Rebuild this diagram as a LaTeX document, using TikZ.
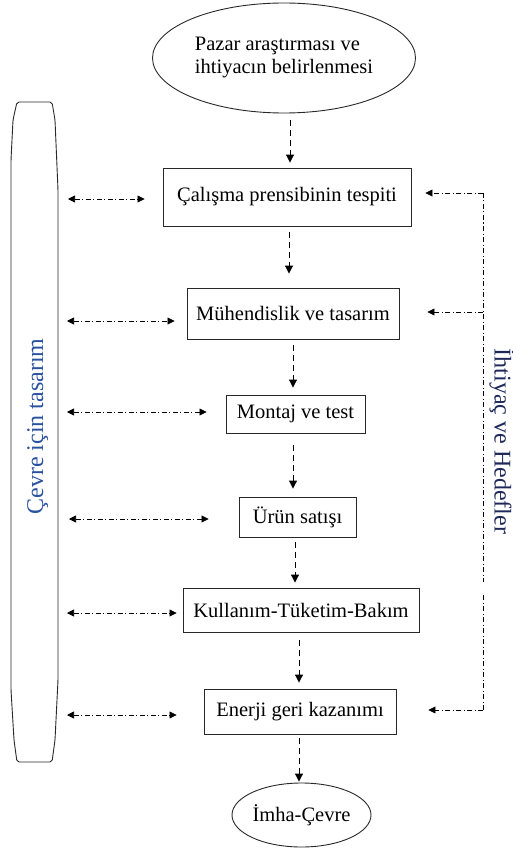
\documentclass[tikz,border=0pt]{standalone}
\usepackage{fontspec}
\setmainfont{Liberation Serif}
\usetikzlibrary{arrows.meta,shapes.geometric}
\definecolor{sideblue}{RGB}{40,82,160}
\definecolor{sidenavy}{RGB}{30,40,90}
\definecolor{edge}{RGB}{40,40,40}
\tikzset{
  boxnode/.style={draw=edge, line width=0.9pt, rectangle, inner sep=0pt, font=\fontsize{20.5}{23}\selectfont},
  ovalnode/.style={draw=edge, line width=0.9pt, ellipse, inner sep=0pt, font=\fontsize{20.5}{23}\selectfont},
  varrow/.style={line width=1pt, dash pattern=on 6pt off 4pt, -{Triangle[length=8pt,width=8pt]}},
  larrow/.style={line width=0.7pt, dash pattern=on 5pt off 2.5pt on 1pt off 2.5pt,
     {Triangle[length=7pt,width=7pt]}-{Triangle[length=7pt,width=7pt]}},
  rarrow/.style={line width=0.7pt, dash pattern=on 5pt off 2.5pt on 1pt off 2.5pt,
     -{Triangle[length=7pt,width=7pt]}},
  rline/.style={line width=0.7pt, dash pattern=on 5pt off 2.5pt on 1pt off 2.5pt},
  sidelabel/.style={font=\fontsize{24}{28}\selectfont, inner sep=0pt, anchor=base}
}
\begin{document}
\begin{tikzpicture}[x=1pt,y=-1pt]
\useasboundingbox (0,0) rectangle (512,850);
% nodes
\node[ovalnode, minimum width=263pt, minimum height=110pt, align=left] (pazar) at (284,58)
  {Pazar araştırması ve\\ihtiyacın belirlenmesi};
\node[boxnode, minimum width=248pt, minimum height=58pt] (b1) at (287,197) {Çalışma prensibinin tespiti};
\node[boxnode, minimum width=212pt, minimum height=51pt] (b2) at (293,313.5) {Mühendislik ve tasarım};
\node[boxnode, minimum width=139pt, minimum height=38pt] (b3) at (295.5,414) {Montaj ve test};
\node[boxnode, minimum width=117pt, minimum height=40pt] (b4) at (297.5,517) {Ürün satışı};
\node[boxnode, minimum width=236pt, minimum height=44pt] (b5) at (301,610) {Kullanım-Tüketim-Bakım};
\node[boxnode, minimum width=192pt, minimum height=45pt] (b6) at (300,711.5) {Enerji geri kazanımı};
\node[ovalnode, minimum width=139pt, minimum height=64pt] (imha) at (301.5,815) {İmha-Çevre};
% vertical flow arrows
\draw[varrow, shorten <=7pt, shorten >=5pt] ([xshift=6pt]pazar.south) -- ([xshift=6pt]pazar.south |- b1.north);
\draw[varrow, shorten <=6pt, shorten >=14pt] ([xshift=2pt]b1.south) -- ([xshift=2pt]b1.south |- b2.north);
\draw[varrow, shorten <=6pt, shorten >=7pt] (b2.south) -- (b2.south |- b3.north);
\draw[varrow, shorten <=12pt, shorten >=8pt] ([xshift=-2.5pt]b3.south) -- ([xshift=-2.5pt]b3.south |- b4.north);
\draw[varrow, shorten <=5pt, shorten >=5pt] ([xshift=-2.5pt]b4.south) -- ([xshift=-2.5pt]b4.south |- b5.north);
\draw[varrow, shorten <=8pt, shorten >=6pt] ([xshift=-2pt]b5.south) -- ([xshift=-2pt]b5.south |- b6.north);
\draw[varrow, shorten <=4pt, shorten >=1pt] ([xshift=-1pt]b6.south) -- ([xshift=-1pt]b6.south |- imha.north);
% left column
\draw[edge, line width=0.9pt, rounded corners=2pt]
  (17,102) -- (52,102) -- (55,120) -- (58,190) -- (58,680) -- (55,740) -- (52,762)
  -- (17,762) -- (14,740) -- (11,690) -- (11,160) -- (13,120) -- cycle;
\node[sidelabel, rotate=90, text=sideblue] (cevre) at (43,426.5) {Çevre için tasarım};
% left double arrows
\coordinate (L1) at (68,199);
\coordinate (L2) at (67,321);
\coordinate (L3) at (67,412);
\coordinate (L4) at (69,519);
\coordinate (L5) at (67,613);
\coordinate (L6) at (67,715);
\draw[larrow, shorten >=18pt] (L1) -- (L1 -| b1.west);
\draw[larrow, shorten >=12pt] (L2) -- (L2 -| b2.west);
\draw[larrow, shorten >=19pt] (L3) -- (L3 -| b3.west);
\draw[larrow, shorten >=30pt] (L4) -- (L4 -| b4.west);
\draw[larrow, shorten >=6pt] (L5) -- (L5 -| b5.west);
\draw[larrow, shorten >=27pt] (L6) -- (L6 -| b6.west);
% right feedback line
\coordinate (R1) at (483,193);
\coordinate (R2) at (483,312);
\coordinate (Rg1) at (483,582);
\coordinate (Rg2) at (483,595);
\coordinate (R3) at (483,710);
\draw[rline] (R1) -- (Rg1);
\draw[rline] (Rg2) -- (R3);
\draw[rarrow, shorten >=14pt] (R1) -- (R1 -| b1.east);
\draw[rarrow, shorten >=28pt] (R2) -- (R2 -| b2.east);
\draw[rarrow, shorten >=32pt] (R3) -- (R3 -| b6.east);
\node[sidelabel, rotate=-90, text=sidenavy] (ihtiyac) at (494.5,441.5) {İhtiyaç ve Hedefler};
\end{tikzpicture}
\end{document}
